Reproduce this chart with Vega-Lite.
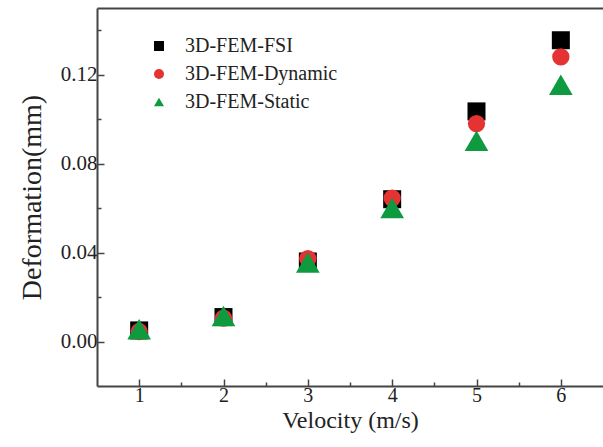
{
  "$schema": "https://vega.github.io/schema/vega-lite/v6.json",
  "width": 506,
  "height": 378,
  "autosize": "none",
  "padding": {"left": 97, "top": 8, "right": 0, "bottom": 61},
  "background": "white",
  "config": {"view": {"stroke": null}, "font": "Liberation Serif"},
  "data": {"values": [
    {"series": "3D-FEM-FSI", "velocity": 1, "deformation": 0.005},
    {"series": "3D-FEM-FSI", "velocity": 2, "deformation": 0.011},
    {"series": "3D-FEM-FSI", "velocity": 3, "deformation": 0.036},
    {"series": "3D-FEM-FSI", "velocity": 4, "deformation": 0.064},
    {"series": "3D-FEM-FSI", "velocity": 5, "deformation": 0.1035},
    {"series": "3D-FEM-FSI", "velocity": 6, "deformation": 0.1355},
    {"series": "3D-FEM-Dynamic", "velocity": 1, "deformation": 0.0045},
    {"series": "3D-FEM-Dynamic", "velocity": 2, "deformation": 0.0105},
    {"series": "3D-FEM-Dynamic", "velocity": 3, "deformation": 0.0373},
    {"series": "3D-FEM-Dynamic", "velocity": 4, "deformation": 0.0645},
    {"series": "3D-FEM-Dynamic", "velocity": 5, "deformation": 0.098},
    {"series": "3D-FEM-Dynamic", "velocity": 6, "deformation": 0.128},
    {"series": "3D-FEM-Static", "velocity": 1, "deformation": 0.0055},
    {"series": "3D-FEM-Static", "velocity": 2, "deformation": 0.0115},
    {"series": "3D-FEM-Static", "velocity": 3, "deformation": 0.0355},
    {"series": "3D-FEM-Static", "velocity": 4, "deformation": 0.06},
    {"series": "3D-FEM-Static", "velocity": 5, "deformation": 0.0903},
    {"series": "3D-FEM-Static", "velocity": 6, "deformation": 0.1155}
  ]},
  "resolve": {"axis": {"x": "independent", "y": "independent"}},
  "layer": [
    {
      "mark": {"type": "point", "filled": true, "opacity": 1, "strokeWidth": 0},
      "encoding": {
        "x": {"field": "velocity", "type": "quantitative",
          "scale": {"domain": [0.5, 6.5], "nice": false, "zero": false},
          "axis": {"orient": "bottom", "values": [1, 2, 3, 4, 5, 6], "tickSize": -7, "tickWidth": 1.5, "tickColor": "#444",
            "domainColor": "#444", "domainWidth": 2, "grid": false,
            "labelFontSize": 20, "labelColor": "#222", "labelPadding": 6, "labelFont": "Liberation Serif",
            "title": "Velocity (m/s)", "titleFontSize": 24, "titleFontWeight": "normal", "titleColor": "#222", "titleFont": "Liberation Serif", "titlePadding": 3}},
        "y": {"field": "deformation", "type": "quantitative",
          "scale": {"domain": [-0.02, 0.15], "nice": false, "zero": false},
          "axis": {"orient": "left", "values": [0, 0.04, 0.08, 0.12], "format": ".2f", "tickSize": -7, "tickWidth": 1.5, "tickColor": "#444",
            "domainColor": "#444", "domainWidth": 2, "grid": false,
            "labelFontSize": 21, "labelColor": "#222", "labelPadding": 7, "labelFont": "Liberation Serif",
            "title": "Deformation(mm)", "titleFontSize": 28, "titleFontWeight": "normal", "titleColor": "#222", "titleFont": "Liberation Serif", "titlePadding": 14}},
        "color": {"field": "series", "type": "nominal",
          "scale": {"domain": ["3D-FEM-FSI", "3D-FEM-Dynamic", "3D-FEM-Static"], "range": ["#000000", "#e53232", "#0e9a3e"]},
          "legend": {"orient": "none", "legendX": 52, "legendY": 28, "title": null, "labelFontSize": 20, "labelFont": "Liberation Serif", "labelColor": "#222", "symbolSize": 100, "labelOffset": 16, "rowPadding": 8, "symbolStrokeWidth": 0}},
        "shape": {"field": "series", "type": "nominal",
          "scale": {"domain": ["3D-FEM-FSI", "3D-FEM-Dynamic", "3D-FEM-Static"], "range": ["square", "circle", "triangle-up"]},
          "legend": {"orient": "none", "legendX": 52, "legendY": 28, "title": null, "labelFontSize": 20, "labelFont": "Liberation Serif", "labelColor": "#222", "symbolSize": 100, "labelOffset": 16, "rowPadding": 8, "symbolStrokeWidth": 0}},
        "size": {"condition": [
          {"test": "datum.series === '3D-FEM-Static'", "value": 560},
          {"test": "datum.series === '3D-FEM-Dynamic'", "value": 300}], "value": 324}
      }
    },
    {
      "mark": {"type": "point", "opacity": 0},
      "encoding": {
        "x": {"field": "velocity", "type": "quantitative",
          "axis": {"orient": "bottom", "values": [1.5, 2.5, 3.5, 4.5, 5.5], "tickSize": -4, "tickWidth": 1.5, "tickColor": "#444", "domain": false, "labels": false, "title": null, "grid": false}},
        "y": {"field": "deformation", "type": "quantitative",
          "axis": {"orient": "left", "values": [0.02, 0.06, 0.1, 0.14], "tickSize": -4, "tickWidth": 1.5, "tickColor": "#444", "domain": false, "labels": false, "title": null, "grid": false}}
      }
    },
    {
      "mark": {"type": "point", "opacity": 0},
      "encoding": {
        "x": {"field": "velocity", "type": "quantitative",
          "axis": {"orient": "top", "ticks": false, "labels": false, "title": null, "grid": false, "domainColor": "#444", "domainWidth": 2}},
        "y": {"field": "deformation", "type": "quantitative", "axis": null}
      }
    }
  ]
}
